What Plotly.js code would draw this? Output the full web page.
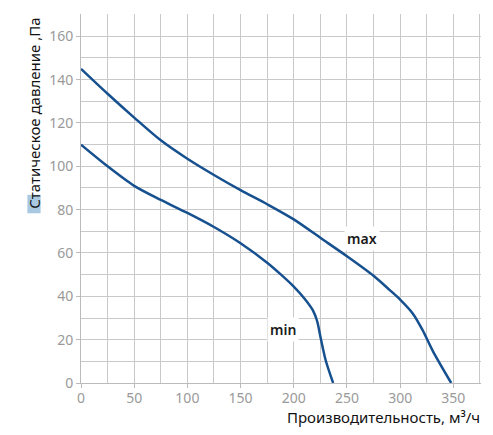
<!DOCTYPE html>
<html>
<head>
<meta charset="utf-8">
<script src="https://cdn.plot.ly/plotly-3.0.1.min.js"></script>
<style>html,body{margin:0;padding:0;background:#fff;}#chart{width:493px;height:435px;}</style>
</head>
<body>
<div id="chart"></div>
<script>
// Airflow (m³/h) and static pressure (Pa) for the two speed curves
const maxFlow = [0, 25, 50, 75, 100, 125, 150, 175, 200, 225, 250, 275, 290, 300, 312, 321, 331, 348];
const maxPressure = [145, 133.5, 122.5, 112, 103.5, 96, 89, 82.5, 75.5, 67, 58.5, 49.5, 43, 38.5, 32, 24.5, 14.5, 0];
const minFlow = [0, 25, 50, 75, 100, 125, 150, 175, 188, 200, 210, 218, 222, 225, 230, 237];
const minPressure = [110, 100, 91, 84.5, 78.5, 72, 64.5, 55.5, 50, 44.5, 39, 33.5, 28.5, 21.5, 10.5, 0];
const curveLabels = ['max', 'min'];
const xTitle = 'Производительность, м³/ч';
const yTitle = 'Статическое давление ,Па';

const lineStyle = {color: '#16508f', width: 2.5, shape: 'spline', smoothing: 0.8};
const traces = [
  {x: maxFlow, y: maxPressure, mode: 'lines', line: lineStyle, hoverinfo: 'skip', showlegend: false},
  {x: minFlow, y: minPressure, mode: 'lines', line: lineStyle, hoverinfo: 'skip', showlegend: false}
];

const tickFont = {family: 'Noto Sans, sans-serif', size: 14, color: '#9a9a9a'};
const labelFont = {family: 'Noto Sans, sans-serif', size: 14, color: '#1a1a1a', weight: 600};
const titleFont = {family: 'Noto Sans, sans-serif', size: 15, color: '#111'};
const layout = {
  width: 493, height: 435,
  margin: {l: 81, r: 12, t: 14, b: 52},
  paper_bgcolor: '#fff', plot_bgcolor: '#fff',
  font: {family: 'Noto Sans, sans-serif'},
  xaxis: {
    range: [0, 376], dtick: 50, tick0: 0,
    showgrid: true, gridcolor: '#c9c9c9', gridwidth: 1,
    minor: {dtick: 25, showgrid: true, gridcolor: '#c9c9c9', gridwidth: 1},
    showline: true, linecolor: '#bbbbbb', linewidth: 1,
    ticks: 'outside', ticklen: 4, tickcolor: '#bbbbbb', ticklabelstandoff: -2,
    tickfont: tickFont, zeroline: false, fixedrange: true
  },
  yaxis: {
    range: [0, 170.3], dtick: 20, tick0: 0,
    showgrid: true, gridcolor: '#c9c9c9', gridwidth: 1,
    minor: {dtick: 10, showgrid: true, gridcolor: '#c9c9c9', gridwidth: 1},
    showline: true, linecolor: '#bbbbbb', linewidth: 1,
    ticks: 'outside', ticklen: 4, tickcolor: '#bbbbbb',
    tickfont: tickFont, zeroline: false, fixedrange: true
  },
  shapes: [
    {type: 'rect', xref: 'paper', yref: 'paper', x0: -0.134, x1: -0.101, y0: 0.46, y1: 0.51,
     fillcolor: '#a9c9e2', line: {width: 0}, layer: 'below'}
  ],
  annotations: [
    {x: 264, y: 66.5, xref: 'x', yref: 'y', text: curveLabels[0], showarrow: false,
     font: labelFont, bgcolor: '#ffffff', borderpad: 2},
    {x: 189.5, y: 24.5, xref: 'x', yref: 'y', text: curveLabels[1], showarrow: false,
     font: labelFont, bgcolor: '#ffffff', borderpad: 2},
    {x: 1.003, y: -0.093, xref: 'paper', yref: 'paper', xanchor: 'right', yanchor: 'middle',
     text: xTitle, showarrow: false, font: titleFont},
    {x: -0.1175, y: 0.7295, xref: 'paper', yref: 'paper', xanchor: 'center', yanchor: 'middle',
     text: yTitle, textangle: -90, showarrow: false, font: titleFont}
  ]
};
Plotly.newPlot('chart', traces, layout, {staticPlot: true, displayModeBar: false});
</script>
</body>
</html>
